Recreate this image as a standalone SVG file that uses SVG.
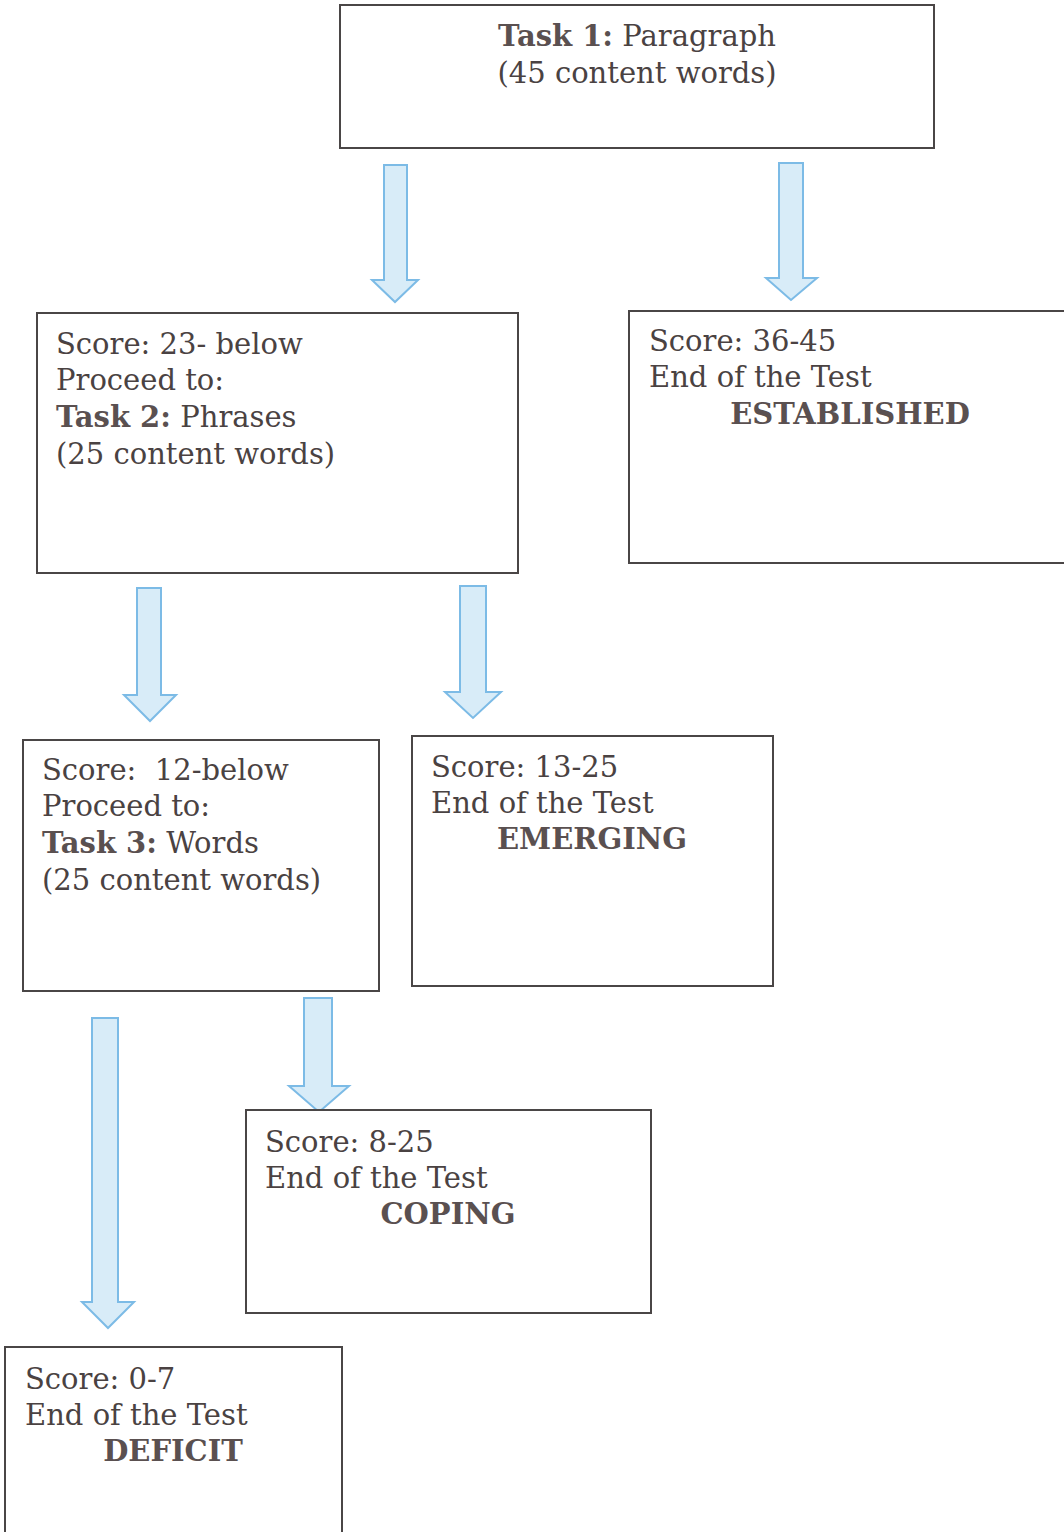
<svg xmlns="http://www.w3.org/2000/svg" width="1064" height="1532" viewBox="0 0 1064 1532">
  <defs>
    <style>
      .box { fill: #ffffff; stroke: #4a4646; stroke-width: 2; }
      .txt { font-family: "DejaVu Serif", "Liberation Serif", serif; font-size: 29px; fill: #4a4242; }
      .b { font-weight: bold; fill: #5a5050; }
      .arrow { fill: #d8ecf8; stroke: #7cbbe6; stroke-width: 2; stroke-linejoin: miter; }
    </style>
  </defs>
  <rect width="1064" height="1532" fill="#ffffff"/>

  <!-- connectors: block arrows -->
  <g id="connectors">
    <path class="arrow" d="M384,165 H407 V280 H418 L395,302 L372,280 H384 Z"/>
    <path class="arrow" d="M779,163 H803 V278 H817 L791,300 L766,278 H779 Z"/>
    <path class="arrow" d="M137,588 H161 V695 H176 L150,721 L124,695 H137 Z"/>
    <path class="arrow" d="M460,586 H486 V692 H501 L473,718 L445,692 H460 Z"/>
    <path class="arrow" d="M92,1018 H118 V1302 H134 L108,1328 L82,1302 H92 Z"/>
    <path class="arrow" d="M304,998 H332 V1086 H349 L319,1112 L289,1086 H304 Z"/>
  </g>

  <g id="task1">
    <rect class="box" x="340" y="5" width="594" height="143"/>
    <text class="txt" x="637" y="46" text-anchor="middle"><tspan class="b">Task 1:</tspan> Paragraph</text>
    <text class="txt" x="637" y="83" text-anchor="middle">(45 content words)</text>
  </g>

  <g id="task2">
    <rect class="box" x="37" y="313" width="481" height="260"/>
    <text class="txt" x="56" y="354">Score: 23- below</text>
    <text class="txt" x="56" y="390">Proceed to:</text>
    <text class="txt" x="56" y="427"><tspan class="b">Task 2:</tspan> Phrases</text>
    <text class="txt" x="56" y="464">(25 content words)</text>
  </g>

  <g id="established">
    <rect class="box" x="629" y="311" width="440" height="252"/>
    <text class="txt" x="649" y="351">Score: 36-45</text>
    <text class="txt" x="649" y="387">End of the Test</text>
    <text class="txt b" x="850" y="424" text-anchor="middle">ESTABLISHED</text>
  </g>

  <g id="task3">
    <rect class="box" x="23" y="740" width="356" height="251"/>
    <text class="txt" x="42" y="780" xml:space="preserve">Score:  12-below</text>
    <text class="txt" x="42" y="816">Proceed to:</text>
    <text class="txt" x="42" y="853"><tspan class="b">Task 3:</tspan> Words</text>
    <text class="txt" x="42" y="890">(25 content words)</text>
  </g>

  <g id="emerging">
    <rect class="box" x="412" y="736" width="361" height="250"/>
    <text class="txt" x="431" y="777">Score: 13-25</text>
    <text class="txt" x="431" y="813">End of the Test</text>
    <text class="txt b" x="592" y="849" text-anchor="middle">EMERGING</text>
  </g>

  <g id="coping">
    <rect class="box" x="246" y="1110" width="405" height="203"/>
    <text class="txt" x="265" y="1152">Score: 8-25</text>
    <text class="txt" x="265" y="1188">End of the Test</text>
    <text class="txt b" x="448" y="1224" text-anchor="middle">COPING</text>
  </g>

  <g id="deficit">
    <rect class="box" x="5" y="1347" width="337" height="195"/>
    <text class="txt" x="25" y="1389">Score: 0-7</text>
    <text class="txt" x="25" y="1425">End of the Test</text>
    <text class="txt b" x="173" y="1461" text-anchor="middle">DEFICIT</text>
  </g>
</svg>
